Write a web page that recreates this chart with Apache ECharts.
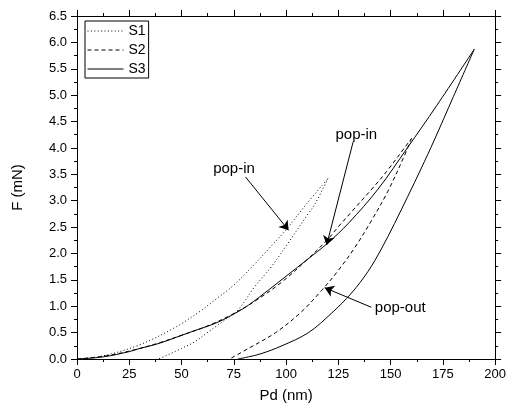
<!DOCTYPE html>
<html>
<head>
<meta charset="utf-8">
<script src="https://cdn.jsdelivr.net/npm/echarts@6/dist/echarts.min.js"></script>
<style>html,body{margin:0;padding:0;background:#fff;}#c{width:509px;height:409px;}</style>
</head>
<body>
<div id="c"></div>
<script>
// ---- data (Pd in nm, F in mN) ----
const S1_load_x   = [0, 12.5, 30, 47, 58, 66, 75, 85, 92, 100, 109, 120];
const S1_load_y   = [0, 0.06, 0.27, 0.60, 0.88, 1.12, 1.40, 1.80, 2.10, 2.45, 2.90, 3.42];
const S1_unload_x = [120, 114, 110, 101, 93, 85, 77, 70, 62, 56, 50, 44, 39];
const S1_unload_y = [3.42, 2.95, 2.72, 2.20, 1.75, 1.37, 0.93, 0.72, 0.49, 0.32, 0.20, 0.09, 0];

const S2_load_x   = [0, 12.5, 25, 38, 50, 62, 74, 86, 98, 110, 120, 124, 132, 141, 148, 156.6, 160];
const S2_load_y   = [0, 0.05, 0.15, 0.29, 0.45, 0.62, 0.84, 1.12, 1.46, 1.88, 2.27, 2.46, 2.82, 3.22, 3.55, 4.00, 4.18];
const S2_unload_x = [160, 156, 148.7, 140.8, 133, 125, 117, 107.5, 95, 82, 73];
const S2_unload_y = [4.18, 3.80, 3.18, 2.62, 2.12, 1.68, 1.30, 0.90, 0.50, 0.20, 0];

const S3_load_x   = [0, 12.5, 25, 30, 38, 47.4, 55, 66.4, 74, 82, 92, 101, 110, 120, 130, 144, 158, 172, 190];
const S3_load_y   = [0, 0.04, 0.14, 0.20, 0.28, 0.41, 0.52, 0.68, 0.83, 1.02, 1.32, 1.60, 1.88, 2.20, 2.58, 3.22, 4.00, 4.80, 5.87];
const S3_unload_x = [190, 180, 170.9, 164.5, 158.2, 151.9, 145.5, 139.2, 131.3, 121.8, 110.7, 98, 88, 82, 77];
const S3_unload_y = [5.87, 4.97, 4.15, 3.60, 3.08, 2.57, 2.08, 1.66, 1.25, 0.87, 0.50, 0.25, 0.10, 0.04, 0];

const seriesNames = ['S1', 'S2', 'S3'];

// annotations: text position and arrow start -> tip (data units)
const annotText   = ['pop-in', 'pop-in', 'pop-out'];
const annotTextX  = [75.1, 133.6, 154.6];
const annotTextY  = [3.61, 4.24, 0.96];
const arrowFromX  = [80.6, 132.1, 140.8];
const arrowFromY  = [3.45, 4.12, 0.98];
const arrowToX    = [101.2, 119.4, 118.5];
const arrowToY    = [2.44, 2.16, 1.35];

const xTicks = {min: 0, max: 200, interval: 25};
const yTicks = {min: 0, max: 6.5, interval: 0.5};

// ---- chart ----
const FONT = "'Liberation Sans', Arial, sans-serif";
const zip = (xs, ys) => xs.map((x, i) => [x, ys[i]]);
const styles = {S1: [1, 2.4], S2: [4, 3], S3: 'solid'};

function lineSeries(name, xs, ys) {
  return {
    name: name, type: 'line', data: zip(xs, ys),
    xAxisIndex: 0, yAxisIndex: 0,
    symbol: 'none', smooth: 0.35, silent: true, animation: false,
    lineStyle: {color: '#000', width: 1, type: styles[name]},
    itemStyle: {color: '#000'}
  };
}

const series = [
  lineSeries('S1', S1_load_x, S1_load_y),
  lineSeries('S1', S1_unload_x, S1_unload_y),
  lineSeries('S2', S2_load_x, S2_load_y),
  lineSeries('S2', S2_unload_x, S2_unload_y),
  lineSeries('S3', S3_load_x, S3_load_y),
  lineSeries('S3', S3_unload_x, S3_unload_y),
  {
    name: 'annotations', type: 'line', data: [], xAxisIndex: 0, yAxisIndex: 0,
    animation: false, silent: true,
    markLine: {
      silent: true, animation: false,
      symbol: ['none', 'arrow'], symbolSize: 9,
      lineStyle: {color: '#000', width: 1, type: 'solid'},
      itemStyle: {color: '#000'},
      label: {show: false},
      data: arrowFromX.map((x, i) => [
        {coord: [x, arrowFromY[i]]},
        {coord: [arrowToX[i], arrowToY[i]]}
      ])
    },
    markPoint: {
      silent: true, animation: false,
      symbol: 'circle', symbolSize: 1,
      itemStyle: {color: 'rgba(0,0,0,0)'},
      data: annotText.map((t, i) => ({
        coord: [annotTextX[i], annotTextY[i]],
        value: t,
        label: {show: true, position: 'inside', formatter: t, color: '#000',
                fontSize: 15, fontFamily: FONT}
      }))
    }
  }
];

const axisCommon = {
  axisLine: {show: true, onZero: false, lineStyle: {color: '#000', width: 1}},
  axisTick: {show: true, inside: false, length: 6, lineStyle: {color: '#000', width: 1}},
  minorTick: {show: true, splitNumber: 2, length: 3, lineStyle: {color: '#000', width: 1}},
  splitLine: {show: false},
  minorSplitLine: {show: false}
};

const option = {
  animation: false,
  backgroundColor: '#fff',
  grid: {left: 77, right: 11, top: 16, bottom: 50, containLabel: false},
  legend: {
    data: seriesNames,
    orient: 'vertical', left: 85, top: 21,
    itemWidth: 36, itemHeight: 14, itemGap: 5,
    padding: [3, 3, 2, 2],
    borderColor: '#000', borderWidth: 1,
    itemStyle: {opacity: 0, borderWidth: 0},
    lineStyle: {width: 1},
    textStyle: {color: '#000', fontSize: 14, fontFamily: FONT},
    selectedMode: false
  },
  xAxis: [
    Object.assign({}, axisCommon, {
      type: 'value', position: 'bottom', min: xTicks.min, max: xTicks.max, interval: xTicks.interval,
      name: 'Pd (nm)', nameLocation: 'middle', nameGap: 29,
      nameTextStyle: {color: '#000', fontSize: 15, fontFamily: FONT},
      axisLabel: {color: '#000', fontSize: 13, fontFamily: FONT, margin: 9}
    }),
    Object.assign({}, axisCommon, {
      type: 'value', position: 'top', min: xTicks.min, max: xTicks.max, interval: xTicks.interval,
      axisLabel: {show: false}
    })
  ],
  yAxis: [
    Object.assign({}, axisCommon, {
      type: 'value', position: 'left', min: yTicks.min, max: yTicks.max, interval: yTicks.interval,
      name: 'F (mN)', nameLocation: 'middle', nameGap: 52, nameRotate: 90,
      nameTextStyle: {color: '#000', fontSize: 15, fontFamily: FONT},
      axisLabel: {color: '#000', fontSize: 13, fontFamily: FONT, margin: 10,
                  formatter: v => v.toFixed(1)}
    }),
    Object.assign({}, axisCommon, {
      type: 'value', position: 'right', min: yTicks.min, max: yTicks.max, interval: yTicks.interval,
      axisLabel: {show: false}
    })
  ],
  series: series
};

const chart = echarts.init(document.getElementById('c'), null, {renderer: 'canvas'});
chart.setOption(option);
</script>
</body>
</html>
